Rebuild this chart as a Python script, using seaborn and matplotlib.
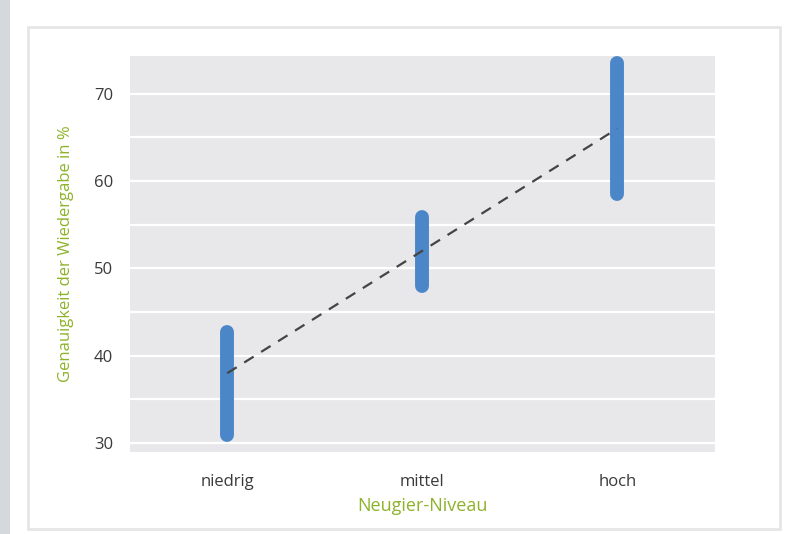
import matplotlib
matplotlib.use("Agg")
import matplotlib.pyplot as plt
import seaborn as sns
import pandas as pd
from matplotlib.patches import Rectangle

categories = ["niedrig", "mittel", "hoch"]
range_low = [30.9, 48.0, 58.5]
range_high = [42.7, 55.9, 73.5]
trend_values = [38.0, 52.0, 66.0]
y_ticks = [30, 40, 50, 60, 70]

sns.set_theme(style="white")
plt.rcParams["font.family"] = ["Open Sans", "DejaVu Sans"]

fig = plt.figure(figsize=(7.96, 5.34), dpi=100)
fig.patch.set_facecolor("white")
# page background details
fig.patches.append(Rectangle((0, 0), 0.012, 1, transform=fig.transFigure,
                             facecolor="#d5d9dd", edgecolor="none", zorder=0))
fig.patches.append(Rectangle((0.035, 0.01), 0.945, 0.94, transform=fig.transFigure,
                             facecolor="none", edgecolor="#e6e6e6", linewidth=2, zorder=0))

ax = fig.add_axes([0.163, 0.154, 0.735, 0.741])
ax.set_facecolor("#e8e8ea")

range_df = pd.DataFrame({
    "cat": categories + categories,
    "val": range_low + range_high,
})
sns.lineplot(data=range_df, x="cat", y="val", units="cat", estimator=None,
             color="#4a86c8", linewidth=10, solid_capstyle="round", ax=ax, zorder=3,
             sort=False)

trend_df = pd.DataFrame({"cat": categories, "val": trend_values})
sns.lineplot(data=trend_df, x="cat", y="val", color="#444444", linewidth=1.6,
             linestyle=(0, (5, 4)), ax=ax, zorder=4)

ax.set_xlim(-0.5, 2.5)
ax.set_ylim(29, 74.3)
ax.set_yticks(y_ticks)
ax.set_yticks([35, 45, 55, 65], minor=True)
ax.grid(True, axis="y", which="both", color="white", linewidth=1.6)
ax.set_axisbelow(True)
for s in ax.spines.values():
    s.set_visible(False)
ax.tick_params(axis="both", length=0, labelsize=12, colors="#3a3a3a")
ax.tick_params(axis="x", pad=16)
ax.tick_params(axis="y", pad=12)
ax.set_xticks(range(len(categories)))
ax.set_xticklabels(categories)

ax.set_xlabel("Neugier-Niveau", color="#8db32a", fontsize=13, labelpad=5)
ax.set_ylabel("Genauigkeit der Wiedergabe in %", color="#8db32a", fontsize=12, labelpad=14)

fig.savefig("out.png", dpi=100)
